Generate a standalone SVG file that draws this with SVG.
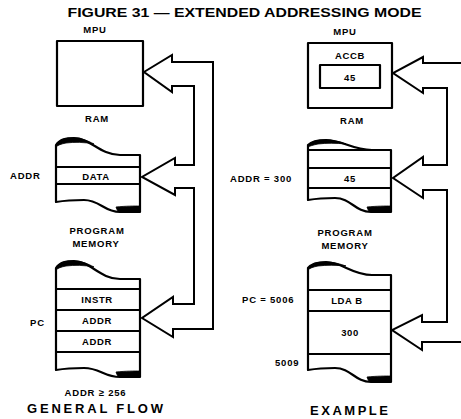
<svg xmlns="http://www.w3.org/2000/svg" width="461" height="419" viewBox="0 0 461 419">
<style>
.bg{fill:#fff}
.box{fill:#fff;stroke:#000;stroke-width:2.2;stroke-linejoin:round}
.ln{stroke:#000;stroke-width:2;fill:none}
.curl{fill:#000;stroke:#000;stroke-width:0.8}
.arr{fill:#fff;stroke:#000;stroke-width:2;stroke-linejoin:miter}
.arro{fill:none;stroke:#000;stroke-width:2;stroke-linejoin:miter}
text{font-family:"Liberation Sans",Arial,sans-serif;fill:#000}
.t{font-size:13px;font-weight:bold}
.lb{font-size:9.5px;font-weight:bold;letter-spacing:0.8px}
.in{font-size:9.5px;font-weight:bold;letter-spacing:0.6px}
.c{text-anchor:middle}
.cap{font-size:13px;font-weight:bold}
</style>
<rect class="bg" x="0" y="0" width="461" height="419"/>
<text class="t c" x="244.5" y="17" textLength="354" lengthAdjust="spacingAndGlyphs">FIGURE 31 — EXTENDED ADDRESSING MODE</text>

<g id="connectors">
<path class="arr" d="M172,62 L213,62 L213,329 L173,329 L173,337 L142,318 L173,297 L173,304 L194,304 L194,188 L175,188 L175,195 L142,177 L175,158 L175,165 L194,165 L194,86 L172,86 L172,92 L144,72 L172,55 Z"/>
<path class="arro" d="M465,63 L423,63 L423,57 L393,73 L423,93 L423,88 L447,88 L447,165 L423,165 L423,157 L393,178 L423,198 L423,190 L447,190 L447,322 L422,322 L422,315 L392,330 L422,350 L422,342 L465,342"/>
</g>

<g id="left-mpu">
<text class="lb c" x="95" y="33">MPU</text>
<rect class="box" x="57" y="41" width="86" height="65"/>
</g>

<g id="left-ram">
<text class="lb c" x="97" y="122">RAM</text>
<path class="box" d="M56,202 L56,145 C60,139 66,138 74,138 C90,138 100,155 120,155 L140,155 L140,212 L120,212 C104,212 100,200 84,200 C70,200 62,201 56,202 Z"/>
<path class="curl" d="M56,145 C60,139 66,138 74,138 C82,138 88,141 94,144 C84,142 74,142 66,143 C61,144 58,145 56,147 Z"/>
<path class="curl" d="M116,207 C126,206 134,206 140,206 L140,212 L120,212 C118,212 117,210 116,207 Z"/>
<path class="ln" d="M56,167 H140 M56,184 H140"/>
<text class="lb" x="10" y="179">ADDR</text>
<text class="in c" x="96" y="180">DATA</text>
<text class="lb c" x="97" y="234">PROGRAM</text>
<text class="lb c" x="96" y="247">MEMORY</text>
</g>

<g id="left-pc">
<path class="box" d="M56,370 L56,268 C60,262 66,261 74,261 C90,261 100,279 120,279 L140,279 L140,377 L120,377 C104,377 100,368 84,368 C70,368 62,369 56,370 Z"/>
<path class="curl" d="M56,268 C60,262 66,261 74,261 C82,261 88,264 94,267 C84,265 74,265 66,266 C61,267 58,268 56,270 Z"/>
<path class="curl" d="M116,372 C126,371 134,371 140,371 L140,377 L120,377 C118,377 117,375 116,372 Z"/>
<path class="ln" d="M56,289 H140 M56,310 H140 M56,331 H140 M56,352 H140"/>
<text class="lb" x="30" y="326">PC</text>
<text class="in c" x="97" y="303">INSTR</text>
<text class="in c" x="97" y="324">ADDR</text>
<text class="in c" x="97" y="345">ADDR</text>
<text class="lb c" x="95.5" y="396">ADDR ≥ 256</text>
<text class="cap c" x="95" y="413" textLength="136" lengthAdjust="spacing">GENERAL FLOW</text>
</g>

<g id="right-mpu">
<text class="lb c" x="345" y="35">MPU</text>
<rect class="box" x="308" y="43" width="84" height="65"/>
<text class="in c" x="350" y="59">ACCB</text>
<rect class="box" x="320" y="65" width="60" height="23"/>
<text class="in c" x="350" y="81">45</text>
</g>

<g id="right-ram">
<text class="lb c" x="352" y="124">RAM</text>
<path class="box" d="M308,200 L308,145 C312,141 318,140 326,140 C342,140 352,150 372,150 L391,150 L391,212 L371,212 C355,212 351,198 335,198 C321,198 314,199 308,200 Z"/>
<path class="curl" d="M308,145 C312,141 318,140 326,140 C334,140 340,142 346,144 C336,143 326,143 318,144 C313,145 310,146 308,147 Z"/>
<path class="curl" d="M367,207 C377,206 385,206 391,206 L391,212 L371,212 C369,212 368,210 367,207 Z"/>
<path class="ln" d="M308,150 H391 M308,168 H391 M308,188 H391"/>
<text class="lb" x="230" y="182">ADDR = 300</text>
<text class="in c" x="350" y="182">45</text>
<text class="lb c" x="345" y="236">PROGRAM</text>
<text class="lb c" x="345" y="249">MEMORY</text>
</g>

<g id="right-pc">
<path class="box" d="M308,370 L308,268 C312,263 318,262 326,262 C342,262 352,275 372,275 L391,275 L391,382 L371,382 C355,382 351,368 335,368 C321,368 314,369 308,370 Z"/>
<path class="curl" d="M308,268 C312,263 318,262 326,262 C334,262 340,264 346,266 C336,265 326,265 318,266 C313,267 310,268 308,270 Z"/>
<path class="curl" d="M367,377 C377,376 385,376 391,376 L391,382 L371,382 C369,382 368,380 367,377 Z"/>
<path class="ln" d="M308,290 H391 M308,311 H391 M308,354 H391"/>
<text class="lb" x="242" y="303">PC = 5006</text>
<text class="in c" x="347" y="304">LDA B</text>
<text class="in c" x="350" y="336">300</text>
<text class="lb" x="275" y="366">5009</text>
<text class="cap c" x="349" y="415" textLength="78" lengthAdjust="spacing">EXAMPLE</text>
</g>
</svg>
